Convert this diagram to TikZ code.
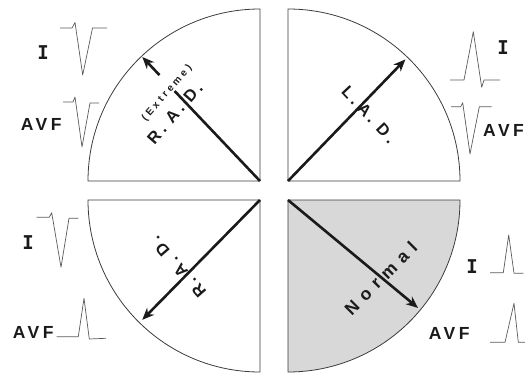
\documentclass[tikz,border=0pt]{standalone}
\usepackage{fontspec}
\usetikzlibrary{arrows.meta,calc}
\newfontfamily\labfont{Liberation Sans}[LetterSpace=20,BoldFont={Liberation Sans Bold}]
\newfontfamily\extfont{Liberation Sans}[LetterSpace=30,BoldFont={Liberation Sans Bold}]
\newfontfamily\leadmono{DejaVu Sans Mono}[BoldFont={DejaVu Sans Mono Bold}]
\definecolor{ink}{HTML}{1A1A1A}
\definecolor{trace}{HTML}{5A5A5A}
\definecolor{quadfill}{HTML}{D8D8D8}
\tikzset{
  quad/.style={draw=ink!85, line width=0.8pt},
  axisarrow/.style={draw=ink, line width=2.6pt, -{Stealth[length=12pt,width=10pt]}},
  axisline/.style={draw=ink, line width=2.6pt},
  ecg/.style={draw=trace, line width=0.7pt, line join=round},
  lead/.style={font={\labfont\bfseries\fontsize{17.5pt}{17.5pt}\selectfont}, text=ink, inner sep=0pt},
  leadI/.style={font={\leadmono\bfseries\fontsize{19pt}{19pt}\selectfont}, text=ink, inner sep=0pt},
  axislab/.style={font={\labfont\bfseries\fontsize{16.5pt}{16.5pt}\selectfont}, text=ink, inner sep=0pt},
  normlab/.style={font={\labfont\bfseries\fontsize{17.5pt}{17.5pt}\selectfont}, text=ink, inner sep=0pt},
  extlab/.style={font={\extfont\bfseries\fontsize{10pt}{10pt}\selectfont}, text=ink, inner sep=0pt},
}
\newcommand{\gapn}{\hspace{6.8pt}}
\begin{document}
\begin{tikzpicture}[x=1pt,y=1pt]
\useasboundingbox (0,0) rectangle (525,376);
\clip (0,0) rectangle (525,376);

% quadrant corners
\coordinate (tlc) at (260,195);
\coordinate (trc) at (288,195);
\coordinate (blc) at (260,176);
\coordinate (brc) at (288,176);

% quadrants
\draw[quad] (tlc) -- ++(0,172) arc[start angle=90,end angle=180,radius=172] -- cycle;
\draw[quad] (trc) -- ++(172,0) arc[start angle=0,end angle=90,radius=172] -- cycle;
\draw[quad] (blc) -- ++(-172,0) arc[start angle=180,end angle=270,radius=172] -- cycle;
\draw[quad, fill=quadfill] (brc) -- ++(0,-172) arc[start angle=270,end angle=360,radius=172] -- cycle;

% axis points
\coordinate (tlend) at ($(tlc)+(133.5:124)$);
\coordinate (tlext) at ($(tlc)+(133.5:146)$);
\coordinate (tltip) at ($(tlc)+(133.5:171)$);
\coordinate (trtip) at ($(trc)+(46:169)$);
\coordinate (bltip) at ($(blc)+(225.5:168)$);
\coordinate (brtip) at ($(brc)+(-39.7:169)$);

% axes
\draw[axisline] (tlc) -- (tlend);
\draw[axisarrow] (tlext) -- (tltip);
\draw[axisarrow] (trc) -- (trtip);
\draw[axisarrow] (blc) -- (bltip);
\draw[axisarrow] (brc) -- (brtip);

% axis labels
\node[axislab, rotate=49] (radtl) at (176,264) {\textbf{R. A. D.}};
\node[extlab, rotate=49] (ext) at (168,284) {\textbf{(Extreme)}};
\node[axislab, rotate=-47] (lad) at (370,260) {\textbf{L.\hspace{5pt}A. D.}};
\node[axislab, rotate=131] (radbl) at (177,110) {\textbf{R. A. D.}};
\node[normlab, rotate=45] (norm) at (382,99) {\textbf{N\gapn o\gapn r\gapn m\gapn a\gapn l}};

% lead labels
\node[leadI] (tlI) at (43,323) {\textbf{I}};
\node[lead] (tlavf) at (43,252) {\textbf{AVF}};
\node[leadI] (trI) at (503,328) {\textbf{I}};
\node[lead, anchor=west] (travf) at (483,246) {\textbf{AVF}};
\node[leadI] (blI) at (28,133) {\textbf{I}};
\node[lead] (blavf) at (35,44) {\textbf{AVF}};
\node[leadI] (brI) at (472,109) {\textbf{I}};
\node[lead] (bravf) at (451,43) {\textbf{AVF}};

% ECG traces
\draw[ecg] (60,348) -- (72,348) -- (75,353.5) -- (82.7,301) -- (92.5,348) -- (107,348);
\draw[ecg] (63,274) -- (73,274) -- (75,279) -- (82,229) -- (90,273) -- (99,273);
\draw[ecg] (450,296) -- (464,296) -- (473.3,344.3) -- (481.7,288.7) -- (484,296) -- (500,296);
\draw[ecg] (451,269.3) -- (460.7,269.3) -- (462.7,273.3) -- (470,222) -- (479.3,269.3) -- (491.7,269.3);
\draw[ecg] (36.7,158.7) -- (49.3,158.7) -- (51.7,163.3) -- (61,108.7) -- (69,157.7) -- (78.3,157.7);
\draw[ecg] (56.7,39.3) -- (78.3,39.3) -- (84,77.7) -- (89.3,37) -- (106,37.7);
\draw[ecg] (490,103.3) -- (503.3,103.3) -- (508.7,141) -- (514,102.7) -- (523.3,102.7);
\draw[ecg] (490,33.7) -- (505,33.7) -- (514,72.7) -- (518.3,33.7) -- (525,33.7);
\end{tikzpicture}
\end{document}
